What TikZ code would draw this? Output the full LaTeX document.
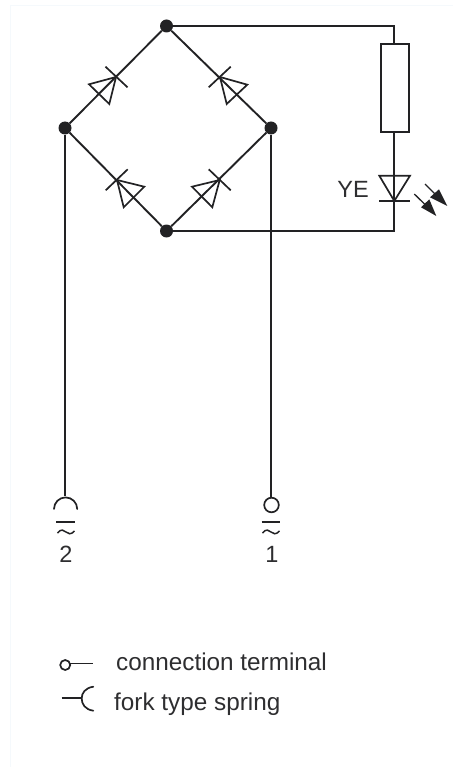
\documentclass[tikz,border=0pt]{standalone}
\usepackage{fontspec}
\setmainfont{Liberation Sans}
\definecolor{ink}{HTML}{222224}
\definecolor{txt}{HTML}{2E2E30}
\definecolor{faint}{HTML}{F5F9FC}
\tikzset{
  wire/.style={draw=ink,line width=1.9pt,line join=miter},
  sym/.style={draw=ink,line width=1.7pt,line join=miter},
  dot/.style={circle,fill=ink,draw=none,minimum size=13pt,inner sep=0pt},
  lab/.style={text=txt,inner sep=0pt,font=\fontsize{23.5}{26}\selectfont,anchor=base},
  leg/.style={text=txt,inner sep=0pt,font=\fontsize{24.3}{28}\selectfont,anchor=base west},
  headf/.style={fill=ink,draw=none},
}
\begin{document}
\begin{tikzpicture}[x=1pt,y=-1pt]
\useasboundingbox (0,0) rectangle (453,767);
\draw[faint,line width=1pt] (453,5.5) -- (10.5,5.5) -- (10.5,767);
% junctions
\node[dot] (top) at (166.5,26) {};
\node[dot] (left) at (65,128) {};
\node[dot] (right) at (271,128) {};
\node[dot] (bot) at (166.5,231) {};
% free ends
\coordinate (ctop) at (394.3,26);
\coordinate (cbot) at (394.3,231);
\node[draw=ink,line width=1.8pt,minimum width=27.5pt,minimum height=87.5pt,inner sep=0pt] (res) at (395,88) {};
\coordinate (ledk) at (394.3,201);
\coordinate (lwire) at (65,496);
\coordinate (rwire) at (271,497.5);
% bridge
\draw[wire] (top) -- (left);
\draw[wire] (top) -- (right);
\draw[wire] (bot) -- (left);
\draw[wire] (bot) -- (right);
% diodes
\draw[sym] (105.5,66.7) -- (127.5,87.3);
\draw[sym] (116,77) -- (89,84.3) -- (109.3,104) -- cycle;
\draw[sym] (208.7,87.3) -- (230.7,66.7);
\draw[sym] (220,77) -- (247.3,84.7) -- (226.7,104) -- cycle;
\draw[sym] (105.7,190.3) -- (127.7,169.3);
\draw[sym] (117,180) -- (144.3,186.7) -- (123.7,207.3) -- cycle;
\draw[sym] (208.7,169.3) -- (230.7,190.3);
\draw[sym] (219.7,180) -- (192,186.7) -- (212.3,207.3) -- cycle;
% right branch
\draw[wire] (top) -- (ctop) -- (ctop |- res.north);
\draw[wire] (ctop |- res.south) -- (cbot) -- (bot);
\draw[sym] (379.3,175.7) -- (410,175.7) -- (ledk) -- cycle;
\draw[sym] (379.3,201.3) -- (410,201.3);
\fill[headf] (447.3,206) -- (430,197.3) -- (439,189.3) -- cycle;
\draw[ink,line width=1.3pt] (425,184) -- (436,195);
\fill[headf] (436.3,216) -- (421,207.3) -- (429.3,199.3) -- cycle;
\draw[ink,line width=1.3pt] (414.3,194) -- (425.5,205);
\node[lab] (ye) at (353,198) {YE};
% terminals
\draw[wire] (left) -- (lwire);
\draw[wire] (right) -- (rwire);
\draw[sym,line cap=round] (54,509) arc[start angle=180,end angle=360,radius=11.6];
\draw[sym] (271.5,505) circle[radius=7.3];
\draw[sym] (56,522) -- (75.3,522);
\draw[sym] (261.7,522) -- (280,522);
\draw[sym,line width=1.5pt] (57.5,533) .. controls (61,528.5) and (64,530) .. (66,532) .. controls (68,534) and (71,535) .. (74.5,531);
\draw[sym,line width=1.5pt] (262.5,533) .. controls (266,528.5) and (269,530) .. (271,532) .. controls (273,534) and (276,535) .. (279.5,531);
\node[lab] (n2) at (66,562.7) {2};
\node[lab] (n1) at (272,562.7) {1};
% legend
\draw[sym] (65.2,665) circle[radius=5];
\draw[sym] (70.2,663.5) -- (93.3,663.5);
\node[leg] (conn) at (116,670.7) {connection terminal};
\draw[sym] (61.7,698.3) -- (81.7,698.3);
\draw[sym,line cap=round] (93.3,686.7) .. controls (85,688) and (81.7,693) .. (81.7,698.5) .. controls (81.7,704) and (85,709.5) .. (93.3,710.7);
\node[leg] (fork) at (114,710) {fork type spring};
\end{tikzpicture}
\end{document}
